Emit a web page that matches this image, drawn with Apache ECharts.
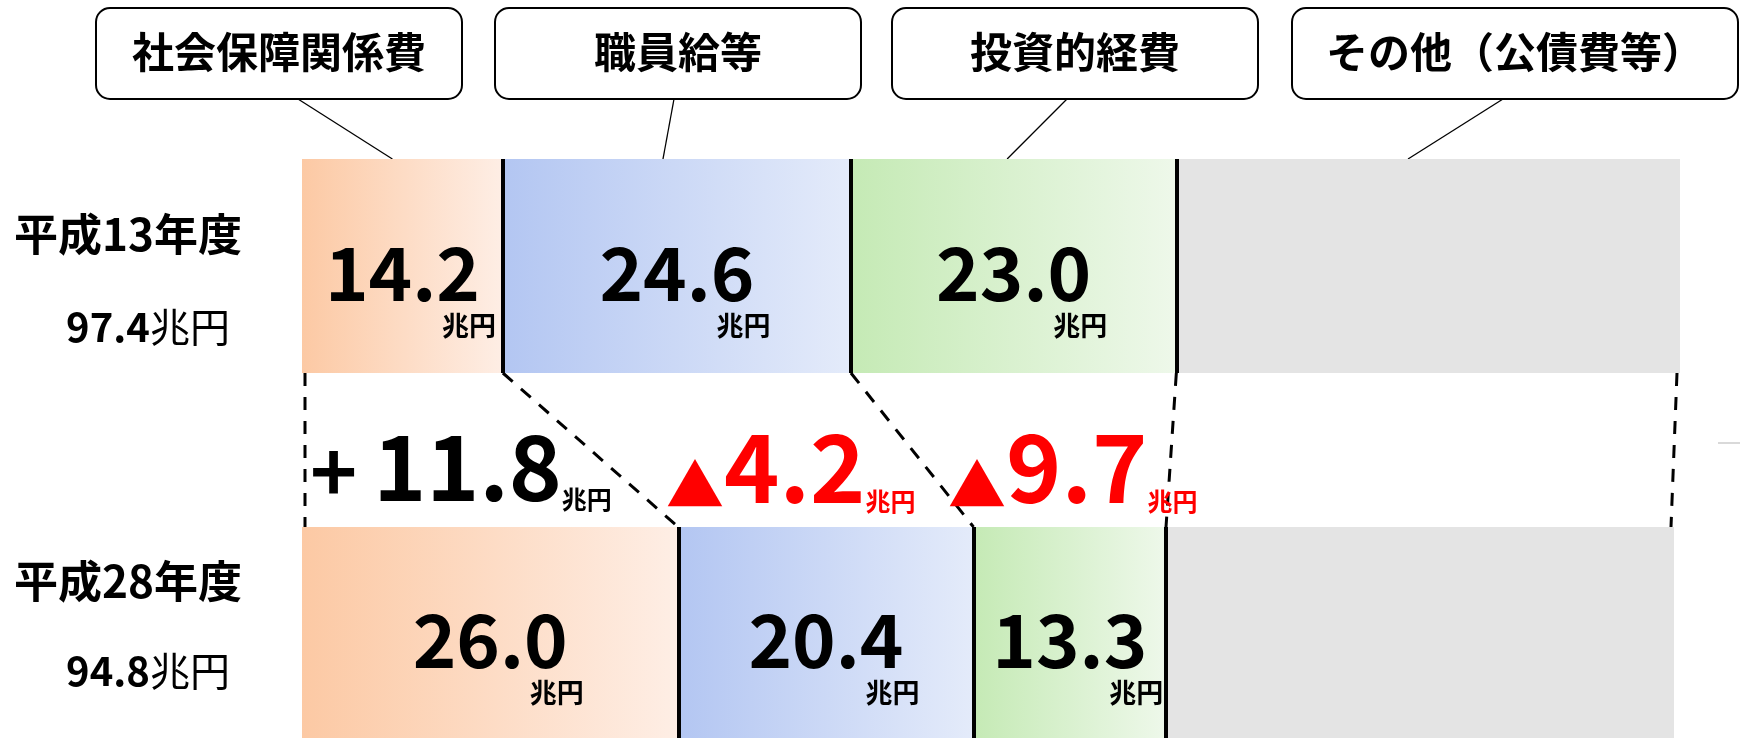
<!DOCTYPE html>
<html>
<head>
<meta charset="utf-8">
<script src="https://cdn.jsdelivr.net/npm/echarts@6/dist/echarts.min.js"></script>
<style>
  html, body { margin: 0; padding: 0; background: #fff; }
  #container { width: 1740px; height: 738px; }
</style>
</head>
<body>
<div id="container"></div>
<script>
var years = ['平成13年度', '平成28年度'];
var totals = [97.4, 94.8];
var items = ['社会保障関係費', '職員給等', '投資的経費', 'その他（公債費等）'];
var valuesH13 = [14.2, 24.6, 23.0, 35.6];
var valuesH28 = [26.0, 20.4, 13.3, 35.1];
var changes = [11.8, -4.2, -9.7];

var FONT = '"Noto Sans CJK JP", "Noto Sans", sans-serif';
var fills = [
  ['#fcc9a4', '#feeee5'],
  ['#b3c6f2', '#e4ebfa'],
  ['#c5eab5', '#eef8ea'],
  ['#e4e4e4', '#e4e4e4']
];

var dom = document.getElementById('container');
var myChart = echarts.init(dom, null, { renderer: 'canvas' });

function cuts(values) {
  var out = [], s = 0;
  for (var i = 0; i < values.length - 1; i++) { s += values[i]; out.push(+s.toFixed(1)); }
  return out;
}

function makeSeries(values, gi) {
  return values.map(function (v, i) {
    var s = {
      name: items[i],
      type: 'bar',
      stack: 'y' + gi,
      xAxisIndex: gi,
      yAxisIndex: gi,
      barCategoryGap: '0%',
      data: [v],
      itemStyle: {
        color: {
          type: 'linear', x: 0, y: 0, x2: 1, y2: 0,
          colorStops: [{ offset: 0, color: fills[i][0] }, { offset: 1, color: fills[i][1] }]
        }
      },
      label: {
        show: i < 3,
        position: 'inside',
        offset: [0, 20],
        color: '#000',
        textBorderWidth: 0,
        formatter: function (p) { return '{v|' + p.value.toFixed(1) + '}\n{u|兆円}'; },
        rich: {
          v: { fontSize: 74, fontWeight: 'bold', lineHeight: 80, color: '#000', fontFamily: FONT, padding: [0, 16, 0, 16] },
          u: { fontSize: 27, fontWeight: 'bold', lineHeight: 26, color: '#000', fontFamily: FONT, align: 'right' }
        }
      }
    };
    if (i === values.length - 1) {
      s.markLine = {
        silent: true,
        symbol: 'none',
        label: { show: false },
        lineStyle: { color: '#000', width: 4, type: 'solid' },
        data: cuts(values).map(function (c) { return { xAxis: c }; })
      };
    }
    return s;
  });
}

function yearAxis(gi, lh, pad) {
  return {
    type: 'category',
    gridIndex: gi,
    data: [years[gi]],
    axisLine: { show: false },
    axisTick: { show: false },
    axisLabel: {
      align: 'center',
      margin: 164,
      padding: pad,
      formatter: function (name) {
        var k = years.indexOf(name);
        return '{y|' + name + '}\n{t|' + totals[k].toFixed(1) + '}{n|兆円}';
      },
      rich: {
        y: { fontSize: 44, fontWeight: 'bold', color: '#000', fontFamily: FONT, lineHeight: lh, padding: [0, 20, 0, 0] },
        t: { fontSize: 40, fontWeight: 'bold', color: '#000', fontFamily: FONT, lineHeight: lh, padding: [0, 0, 0, 20] },
        n: { fontSize: 40, fontWeight: 'normal', color: '#000', fontFamily: FONT, lineHeight: lh }
      }
    }
  };
}

var option = {
  animation: false,
  grid: [
    { left: 302, top: 159, width: 1378, height: 214 },
    { left: 302, top: 527, width: 1372, height: 214 }
  ],
  xAxis: [
    { type: 'value', gridIndex: 0, min: 0, max: totals[0], show: false },
    { type: 'value', gridIndex: 1, min: 0, max: totals[1], show: false }
  ],
  yAxis: [yearAxis(0, 92, [29, 0, 0, 0]), yearAxis(1, 90, [0, 0, 13, 0])],
  series: makeSeries(valuesH13, 0).concat(makeSeries(valuesH28, 1))
};

myChart.setOption(option);

// annotation layer: callouts, connectors and change labels
var boxes = [[96, 8, 366, 91], [495, 8, 366, 91], [892, 8, 366, 91], [1292, 8, 446, 91]];
var leaderStart = [298, 674, 1067, 1503];
var leaderFrac = [0.45, 0.46, 0.48, 0.46];
var changePos = [[310, 420], [666, 420], [948, 420]];

function px(gi, v) { return myChart.convertToPixel({ xAxisIndex: gi }, v); }

var graphics = [];
var topY = 159, topBottom = 373, bottomTop = 527;

items.forEach(function (name, i) {
  var b = boxes[i];
  graphics.push({
    type: 'rect',
    shape: { x: b[0], y: b[1], width: b[2], height: b[3], r: 14 },
    style: { fill: '#fff', stroke: '#000', lineWidth: 2 }
  });
  graphics.push({
    type: 'text',
    style: {
      text: name, x: b[0] + b[2] / 2, y: b[1] + b[3] / 2 - 1,
      textAlign: 'center', textVerticalAlign: 'middle',
      font: 'bold 42px ' + FONT, fill: '#000'
    }
  });
  var start = 0;
  for (var k = 0; k < i; k++) start += valuesH13[k];
  var ex = px(0, start + valuesH13[i] * leaderFrac[i]);
  graphics.push({
    type: 'line',
    shape: { x1: leaderStart[i], y1: b[1] + b[3], x2: ex, y2: topY },
    style: { stroke: '#000', lineWidth: 1.3 }
  });
});

var topCuts = [0].concat(cuts(valuesH13), [totals[0]]);
var bottomCuts = [0].concat(cuts(valuesH28), [totals[1]]);
topCuts.forEach(function (c, i) {
  var inset = i === 0 ? 3 : (i === topCuts.length - 1 ? -3 : 0);
  graphics.push({
    type: 'line',
    shape: { x1: px(0, c) + inset, y1: topBottom, x2: px(1, bottomCuts[i]) + inset, y2: bottomTop },
    style: { stroke: '#000', lineWidth: 3, lineDash: [13, 11] }
  });
});

changes.forEach(function (d, i) {
  var up = d > 0;
  var col = up ? '#000' : '#ff0000';
  graphics.push({
    type: 'text',
    style: {
      text: '{s|' + (up ? '+' : '▲') + '}{n|' + Math.abs(d).toFixed(1) + '}{u|兆円}',
      x: changePos[i][0], y: changePos[i][1],
      textAlign: 'left', textVerticalAlign: 'top',
      rich: {
        s: { fontSize: up ? 80 : 58, fontWeight: 'bold', fill: col, fontFamily: FONT, lineHeight: up ? 88 : 73, verticalAlign: 'bottom', padding: up ? [0, 16, 0, 0] : 0 },
        n: { fontSize: up ? 90 : 94, fontWeight: 'bold', fill: col, fontFamily: FONT, lineHeight: up ? 92 : 94, verticalAlign: 'bottom' },
        u: { fontSize: 25, fontWeight: 'bold', fill: col, fontFamily: FONT, lineHeight: 52, verticalAlign: 'bottom' }
      }
    }
  });
});

graphics.push({
  type: 'line',
  shape: { x1: 1718, y1: 443, x2: 1740, y2: 443 },
  style: { stroke: '#d9d9d9', lineWidth: 2 }
});

myChart.setOption({ graphic: graphics });

window.addEventListener('resize', myChart.resize);
</script>
</body>
</html>
